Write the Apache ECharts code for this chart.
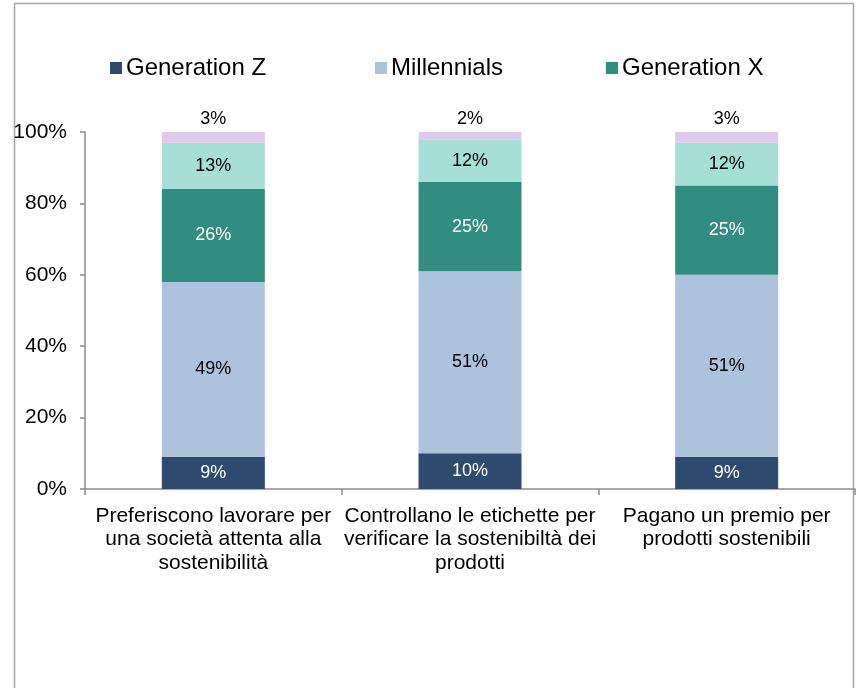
<!DOCTYPE html>
<html>
<head>
<meta charset="utf-8">
<script src="https://cdn.jsdelivr.net/npm/echarts@6/dist/echarts.min.js"></script>
<style>
  html, body { margin: 0; padding: 0; background: #fff; }
  #chart { width: 856px; height: 688px; }
</style>
</head>
<body>
<div id="chart"></div>
<script>
// Categories (multi-line axis labels)
const categories = [
  'Preferiscono lavorare per\nuna società attenta alla\nsostenibilità',
  'Controllano le etichette per\nverificare la sostenibiltà dei\nprodotti',
  'Pagano un premio per\nprodotti sostenibili'
];

// Share of each generation, in percent
const generationZ   = [9, 10, 9];
const millennials   = [49, 51, 51];
const generationX   = [26, 25, 25];
const babyBoomers   = [13, 12, 12];
const silentGen     = [3, 2, 3];

const yTicks = [0, 20, 40, 60, 80, 100];

const FONT = '"Liberation Sans", Arial, sans-serif';

const chart = echarts.init(document.getElementById('chart'), null, { renderer: 'canvas' });

function barSeries(name, data, color, labelColor, pos) {
  return {
    name: name,
    type: 'bar',
    stack: 'total',
    data: data,
    barWidth: 103,
    itemStyle: { color: color },
    label: {
      show: true,
      position: pos || 'inside',
      formatter: '{c}%',
      color: labelColor,
      fontFamily: FONT,
      fontSize: 18,
      distance: 4
    },
    emphasis: { disabled: true }
  };
}

function legendAt(name, left) {
  return {
    data: [name],
    left: left,
    top: 51,
    itemWidth: 12,
    itemHeight: 12,
    itemGap: 0,
    icon: 'rect',
    textStyle: { fontFamily: FONT, fontSize: 24, color: '#000', padding: [0, 0, 0, -1] }
  };
}

chart.setOption({
  animation: false,
  backgroundColor: '#fff',
  graphic: [{
    type: 'rect',
    shape: { x: 14.5, y: 3.5, width: 839, height: 700 },
    style: { fill: 'none', stroke: '#a6a6a6', lineWidth: 1.5 },
    silent: true
  }],
  legend: [
    legendAt('Generation Z', 105),
    legendAt('Millennials', 370),
    legendAt('Generation X', 601)
  ],
  grid: { left: 85, right: 1, top: 132, bottom: 199, containLabel: false },
  xAxis: {
    type: 'category',
    data: categories,
    boundaryGap: true,
    axisLine: { lineStyle: { color: '#8c8c8c', width: 1.5 } },
    axisTick: { show: true, length: 6, lineStyle: { color: '#8c8c8c', width: 1.5 } },
    axisLabel: {
      interval: 0,
      fontFamily: FONT,
      fontSize: 21,
      color: '#000',
      lineHeight: 23.5,
      margin: 15
    }
  },
  yAxis: {
    type: 'value',
    min: 0,
    max: 100,
    interval: 20,
    axisLine: { show: true, lineStyle: { color: '#8c8c8c', width: 1.5 } },
    axisTick: { show: true, length: 5, inside: false, lineStyle: { color: '#8c8c8c', width: 1.5 } },
    splitLine: { show: false },
    axisLabel: {
      fontFamily: FONT,
      fontSize: 21,
      color: '#000',
      margin: 18,
      formatter: function (v) { return yTicks.indexOf(v) >= 0 ? v + '%' : ''; }
    }
  },
  series: [
    barSeries('Generation Z', generationZ, '#2e4a6e', '#ffffff'),
    barSeries('Millennials', millennials, '#adc3dc', '#000000'),
    barSeries('Generation X', generationX, '#318d7f', '#ffffff'),
    barSeries('Baby Boomers', babyBoomers, '#a5dfd6', '#000000'),
    barSeries('Silent Generation', silentGen, '#dfc9ec', '#000000', 'top')
  ]
});
</script>
</body>
</html>
